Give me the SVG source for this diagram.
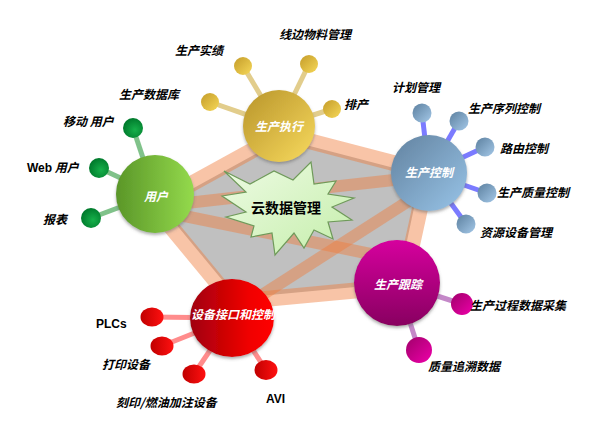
<svg xmlns="http://www.w3.org/2000/svg" width="605" height="428" viewBox="0 0 605 428">
<defs>
  <linearGradient id="gGold" x1="0" y1="0" x2="1" y2="1"><stop offset="0" stop-color="#b8942a"/><stop offset="1" stop-color="#f8da5e"/></linearGradient>
  <linearGradient id="gBlue" x1="0" y1="0" x2="1" y2="1"><stop offset="0" stop-color="#62829f"/><stop offset="1" stop-color="#98c4e8"/></linearGradient>
  <linearGradient id="gGreen" x1="0" y1="0" x2="1" y2="0"><stop offset="0" stop-color="#5a9628"/><stop offset="1" stop-color="#94da4c"/></linearGradient>
  <linearGradient id="gRed" x1="0" y1="0" x2="1" y2="0"><stop offset="0" stop-color="#a0000c"/><stop offset="0.7" stop-color="#f00000"/><stop offset="1" stop-color="#ff0000"/></linearGradient>
  <linearGradient id="gMag" x1="0" y1="0" x2="0" y2="1"><stop offset="0" stop-color="#d6009e"/><stop offset="1" stop-color="#880060"/></linearGradient>
  <linearGradient id="bGold" x1="0" y1="0" x2="1" y2="1"><stop offset="0" stop-color="#c49c2a"/><stop offset="1" stop-color="#f6d858"/></linearGradient>
  <linearGradient id="bBlue" x1="0" y1="0" x2="1" y2="1"><stop offset="0" stop-color="#5c809f"/><stop offset="1" stop-color="#a4c8e8"/></linearGradient>
  <radialGradient id="bGreen" cx="0.6" cy="0.6" r="0.6"><stop offset="0" stop-color="#16b04a"/><stop offset="1" stop-color="#007a2c"/></radialGradient>
  <linearGradient id="bRed" x1="0" y1="0" x2="1" y2="0"><stop offset="0" stop-color="#c00000"/><stop offset="1" stop-color="#ff1010"/></linearGradient>
  <linearGradient id="bMag" x1="0" y1="0" x2="1" y2="1"><stop offset="0" stop-color="#a0006a"/><stop offset="1" stop-color="#ee00aa"/></linearGradient>
  <linearGradient id="gStar" x1="0" y1="0" x2="1" y2="1"><stop offset="0" stop-color="#eefbe4"/><stop offset="1" stop-color="#c4eeaa"/></linearGradient>
  <filter id="sh" x="-20%" y="-20%" width="140%" height="150%"><feDropShadow dx="0" dy="2" stdDeviation="1.5" flood-color="#606060" flood-opacity="0.5"/></filter>
</defs>
<style>
  .band{fill:none;stroke:#f07c3c;stroke-opacity:0.45;stroke-width:12}
  .frame{fill:none;stroke:#f07c3c;stroke-opacity:0.45;stroke-width:16;stroke-linejoin:miter}
  .sp{stroke-width:5;fill:none}
  .lbl{font-family:"Noto Sans CJK SC","Liberation Sans",sans-serif;font-size:12px;font-weight:bold;font-style:italic;fill:#000}
  .lat{font-family:"Liberation Sans","Noto Sans CJK SC",sans-serif;font-style:normal;font-weight:bold}
  .in{font-family:"Noto Sans CJK SC","Liberation Sans",sans-serif;font-size:12px;font-weight:bold;font-style:italic;fill:#fff;text-anchor:middle}
  .main{filter:url(#sh)}
</style>
<rect width="605" height="428" fill="#fff"/>
<g id="core">
  <polygon points="161,206 283,139 421,175 398,283 237,298" fill="#c0c0c0"/>
</g>
<g id="connectors">
  <line class="band" x1="160" y1="206" x2="421" y2="177"/>
  <line class="band" x1="160" y1="211" x2="400" y2="260"/>
  <line class="band" x1="237" y1="311" x2="421" y2="193"/>
  <polygon class="frame" points="153,205 282,134 428,172 403,286 233,302"/>
  <g stroke="#e2cd8c" class="sp">
    <line x1="279" y1="126" x2="243" y2="66"/>
    <line x1="279" y1="126" x2="309" y2="64"/>
    <line x1="279" y1="126" x2="210" y2="102"/>
    <line x1="279" y1="126" x2="332" y2="109"/>
  </g>
  <g stroke="#7b7bff" class="sp">
    <line x1="429" y1="173" x2="422" y2="113"/>
    <line x1="429" y1="173" x2="459" y2="121"/>
    <line x1="429" y1="173" x2="485" y2="147"/>
    <line x1="429" y1="173" x2="487" y2="193"/>
    <line x1="429" y1="173" x2="466" y2="224"/>
  </g>
  <g stroke="#80c28a" class="sp">
    <line x1="155" y1="194" x2="133" y2="128"/>
    <line x1="155" y1="194" x2="99" y2="168"/>
    <line x1="155" y1="194" x2="91" y2="218"/>
  </g>
  <g stroke="#ff8c8c" class="sp">
    <line x1="232" y1="318" x2="152" y2="317"/>
    <line x1="232" y1="318" x2="162" y2="346"/>
    <line x1="232" y1="318" x2="194" y2="374"/>
    <line x1="232" y1="318" x2="266" y2="370"/>
  </g>
  <g stroke="#c488c8" class="sp">
    <line x1="397" y1="283" x2="462" y2="304"/>
    <line x1="397" y1="283" x2="419" y2="350"/>
  </g>
</g>
<g id="cloud">
  <polygon points="224,171 250,184 274,171 293,180 311,162 314,184 336,181 328,194 354,198 332,207 352,220 328,222 333,239 314,230 304,248 294,233 275,255 272,233 251,237 254,226 226,217 246,212 222,196 246,192" fill="url(#gStar)" stroke="#6f9a5a" stroke-width="1.2" stroke-linejoin="miter"/>
  <text x="286" y="213" font-family="Noto Sans CJK SC,sans-serif" font-size="14" font-weight="bold" text-anchor="middle" fill="#000">云数据管理</text>
</g>
<g id="exec">
  <circle cx="243" cy="66" r="9" fill="url(#bGold)"/>
  <circle cx="309" cy="64" r="9" fill="url(#bGold)"/>
  <circle cx="210" cy="102" r="9" fill="url(#bGold)"/>
  <circle cx="332" cy="109" r="9" fill="url(#bGold)"/>
  <circle class="main" cx="279" cy="126" r="36" fill="url(#gGold)"/>
  <text class="in" x="279" y="131">生产执行</text>
  <text class="lbl" x="199" y="55" text-anchor="middle">生产实绩</text>
  <text class="lbl" x="315" y="39" text-anchor="middle">线边物料管理</text>
  <text class="lbl" x="344" y="109">排产</text>
  <text class="lbl" x="149" y="99" text-anchor="middle">生产数据库</text>
</g>
<g id="control">
  <circle cx="422" cy="113" r="9.5" fill="url(#bBlue)"/>
  <circle cx="459" cy="121" r="9.5" fill="url(#bBlue)"/>
  <circle cx="485" cy="147" r="9.5" fill="url(#bBlue)"/>
  <circle cx="487" cy="193" r="9.5" fill="url(#bBlue)"/>
  <circle cx="466" cy="224" r="9.5" fill="url(#bBlue)"/>
  <circle class="main" cx="429" cy="173" r="38" fill="url(#gBlue)"/>
  <text class="in" x="429" y="177">生产控制</text>
  <text class="lbl" x="416" y="92" text-anchor="middle">计划管理</text>
  <text class="lbl" x="468" y="113">生产序列控制</text>
  <text class="lbl" x="500" y="153">路由控制</text>
  <text class="lbl" x="497" y="197">生产质量控制</text>
  <text class="lbl" x="480" y="237">资源设备管理</text>
</g>
<g id="user">
  <circle cx="133" cy="128" r="10" fill="url(#bGreen)"/>
  <circle cx="99" cy="168" r="10" fill="url(#bGreen)"/>
  <circle cx="91" cy="218" r="10" fill="url(#bGreen)"/>
  <circle class="main" cx="155" cy="194" r="39" fill="url(#gGreen)"/>
  <text class="in" x="156" y="201">用户</text>
  <text class="lbl" x="63" y="126">移动 用户</text>
  <text class="lbl" x="27" y="172"><tspan class="lat">Web</tspan> 用户</text>
  <text class="lbl" x="43" y="224">报表</text>
</g>
<g id="device">
  <ellipse cx="152" cy="317" rx="11.5" ry="9.5" fill="url(#bRed)"/>
  <ellipse cx="162" cy="346" rx="11.5" ry="9.5" fill="url(#bRed)"/>
  <ellipse cx="194" cy="374" rx="11.5" ry="9.5" fill="url(#bRed)"/>
  <ellipse cx="266" cy="370" rx="11.5" ry="10" fill="url(#bRed)"/>
  <ellipse class="main" cx="232" cy="318" rx="42" ry="39" fill="url(#gRed)"/>
  <text class="in" x="233" y="319">设备接口和控制</text>
  <text class="lbl lat" x="96" y="328">PLCs</text>
  <text class="lbl" x="102" y="369">打印设备</text>
  <text class="lbl" x="116" y="407">刻印/燃油加注设备</text>
  <text class="lbl lat" x="266" y="403">AVI</text>
</g>
<g id="tracking">
  <circle cx="462" cy="304" r="11" fill="url(#bMag)"/>
  <circle cx="419" cy="350" r="13" fill="url(#bMag)"/>
  <circle class="main" cx="397" cy="283" r="43" fill="url(#gMag)"/>
  <text class="in" x="398" y="289">生产跟踪</text>
  <text class="lbl" x="470" y="310">生产过程数据采集</text>
  <text class="lbl" x="428" y="371">质量追溯数据</text>
</g>
</svg>
